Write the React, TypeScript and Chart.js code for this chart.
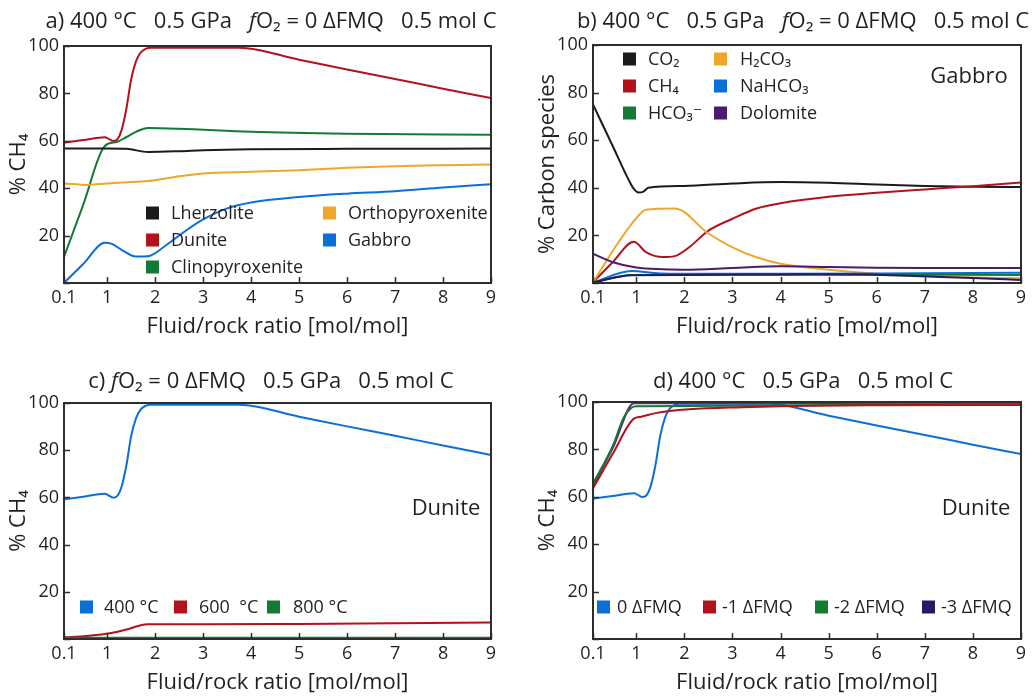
import React, { useEffect, useRef } from 'react';
import { Chart, registerables } from 'chart.js';
Chart.register(...registerables);

const FONT = '"Open Sans", "DejaVu Sans", sans-serif';
const INK = '#231f20';

// ---- axes ----
const xTickValues = [0.1, 1, 2, 3, 4, 5, 6, 7, 8, 9];
const yTickValues = [0, 20, 40, 60, 80, 100];
const xAxisTitle = 'Fluid/rock ratio [mol/mol]';

// ---- colours ----
const C_BLACK = '#1b1b1b';
const C_RED = '#b3121c';
const C_GREEN = '#137a34';
const C_ORANGE = '#eea62c';
const C_BLUE = '#0b6fd8';
const C_PURPLE = '#4d1a6e';
const C_NAVY = '#251a64';

// ---- Dunite, 400 °C, 0 ΔFMQ (panels a, c, d) ----
const dunite400X = [0.1, 0.5, 0.95, 1.05, 1.13, 1.22, 1.3, 1.4, 1.5, 1.6, 1.7, 1.8, 1.9, 2.5, 3.75, 5, 6, 7, 8, 9];
const dunite400Y = [59.2, 60.3, 61.5, 60.6, 59.9, 60.8, 64.5, 73.5, 86, 93.5, 97.3, 98.8, 99.3, 99.3, 99.3, 94.2, 90.1, 86.1, 82.0, 78.0];

// ---- panel a ----
const lherzX = [0.1, 1, 1.4, 1.85, 2.5, 3, 4, 6, 9];
const lherzY = [56.7, 56.7, 56.6, 55.3, 55.6, 56.0, 56.4, 56.6, 56.7];
const clinoX = [0.1, 0.5, 0.95, 1.2, 1.4, 1.6, 1.85, 2.5, 4, 6, 9];
const clinoY = [11, 33, 57.8, 59.5, 61.6, 63.8, 65.4, 65.1, 63.8, 63, 62.6];
const orthoX = [0.1, 0.6, 1, 1.5, 2, 2.5, 3, 4, 5, 6, 7, 8, 9];
const orthoY = [42, 41.4, 42, 42.6, 43.4, 45, 46.2, 46.9, 47.6, 48.6, 49.3, 49.7, 50];
const gabbroX = [0.1, 0.5, 0.95, 1.1, 1.3, 1.6, 1.85, 2.2, 2.6, 3, 3.5, 4, 5, 6, 7, 8, 9];
const gabbroY = [0, 8, 17, 16.5, 14, 11.2, 11.3, 15.5, 21.5, 26.8, 31.5, 34, 36.3, 37.7, 38.7, 40.3, 41.7];

// ---- panel b (Gabbro species) ----
const co2X = [0.1, 0.5, 0.85, 0.95, 1.05, 1.15, 1.25, 2, 3, 4, 5, 6, 7, 8, 9];
const co2Y = [75, 58, 43, 39.5, 38, 38.4, 40, 40.8, 41.8, 42.4, 42.1, 41.4, 40.8, 40.4, 40.3];
const ch4X = [0.1, 0.5, 0.95, 1.2, 1.55, 1.8, 2.1, 2.5, 3, 3.5, 4, 5, 6, 7, 8, 9];
const ch4Y = [0.3, 8.5, 17.3, 13, 10.9, 11.3, 15, 22, 27, 31.3, 33.5, 36.2, 37.9, 39.3, 40.7, 42.2];
const h2co3X = [0.1, 0.3, 0.56, 0.95, 1.2, 1.8, 2.5, 3, 3.5, 4, 5, 6, 7, 8, 9];
const h2co3Y = [0.3, 6.7, 15, 26, 30.8, 31.3, 20.8, 15, 10.8, 8.1, 5.6, 3.9, 2.8, 2.3, 2.0];
const dolomiteX = [0.1, 0.5, 1, 2, 3, 4, 5, 6, 7, 9];
const dolomiteY = [12.3, 8.8, 6.5, 5.6, 6.3, 7.0, 6.7, 6.4, 6.3, 6.3];
const nahco3X = [0.1, 0.9, 1.5, 2, 4, 6, 9];
const nahco3Y = [0.2, 5, 4, 3.9, 3.9, 4, 4.3];
const hco3X = [0.1, 0.9, 2, 5, 9];
const hco3Y = [0.2, 3.4, 3.5, 3.5, 3.4];
const minorX = [0.1, 0.9, 2, 4, 5, 6, 7, 8, 9];
const minorY = [0.2, 3.3, 3.4, 3.6, 3.7, 3.5, 2.8, 2.1, 1.3];

// ---- panel c (Dunite, temperature) ----
const t600X = [0.1, 0.57, 1.06, 1.4, 1.84, 3, 5, 7, 9];
const t600Y = [0.7, 1.3, 2.4, 4, 6.3, 6.2, 6.4, 6.7, 7.0];
const t800X = [0.1, 9];
const t800Y = [0.5, 0.5];

// ---- panel d (Dunite, fO2) ----
const fmq1X = [0.1, 0.52, 0.95, 1.1, 1.4, 2.1, 3.2, 4.2, 6, 9];
const fmq1Y = [63.6, 78.5, 93.0, 93.8, 95.3, 96.9, 97.8, 98.3, 98.6, 98.7];
const fmq2X = [0.1, 0.52, 0.73, 0.9, 1.0, 2, 4, 6, 9];
const fmq2Y = [65.5, 81.9, 93.1, 97.6, 98.2, 98.3, 98.5, 99.0, 99.3];
const fmq3X = [0.1, 0.52, 0.95, 2, 9];
const fmq3Y = [64.5, 81, 99.5, 99.5, 99.5];

type Seg = { t: string; i?: boolean };
type Series = { label: string; x: number[]; y: number[]; color: string };
type LegendItem = { label: string; color: string; sx: number; tx: number; y: number };
type PanelDef = {
  left: number; top: number; width: number; height: number;
  area: { l: number; r: number; t: number; b: number };
  title: Seg[]; titleX: number; titleY: number;
  yTitle: string; yTitlePad: number;
  series: Series[];
  legend: LegendItem[];
  note?: { text: string; x: number; y: number };
};

const titleABC = (p: string): Seg[] => [
  { t: p + ' 400 °C   0.5 GPa   ' }, { t: 'f', i: true }, { t: 'O₂ = 0 ΔFMQ   0.5 mol C' },
];

const panels: PanelDef[] = [
  {
    left: 0, top: 0, width: 515, height: 340,
    area: { l: 64, r: 491, t: 46, b: 283 },
    title: titleABC('a)'), titleX: 271, titleY: 22,
    yTitle: '% CH₄', yTitlePad: 6,
    series: [
      { label: 'Lherzolite', x: lherzX, y: lherzY, color: C_BLACK },
      { label: 'Orthopyroxenite', x: orthoX, y: orthoY, color: C_ORANGE },
      { label: 'Gabbro', x: gabbroX, y: gabbroY, color: C_BLUE },
      { label: 'Clinopyroxenite', x: clinoX, y: clinoY, color: C_GREEN },
      { label: 'Dunite', x: dunite400X, y: dunite400Y, color: C_RED },
    ],
    legend: [
      { label: 'Lherzolite', color: C_BLACK, sx: 146, tx: 171, y: 213 },
      { label: 'Dunite', color: C_RED, sx: 146, tx: 171, y: 240 },
      { label: 'Clinopyroxenite', color: C_GREEN, sx: 146, tx: 171, y: 267 },
      { label: 'Orthopyroxenite', color: C_ORANGE, sx: 323, tx: 348, y: 213 },
      { label: 'Gabbro', color: C_BLUE, sx: 323, tx: 348, y: 240 },
    ],
  },
  {
    left: 515, top: 0, width: 520, height: 340,
    area: { l: 78, r: 506, t: 45, b: 283 },
    title: titleABC('b)'), titleX: 288, titleY: 22,
    yTitle: '% Carbon species', yTitlePad: 20,
    series: [
      { label: 'minor', x: minorX, y: minorY, color: C_NAVY },
      { label: 'HCO₃⁻', x: hco3X, y: hco3Y, color: C_GREEN },
      { label: 'NaHCO₃', x: nahco3X, y: nahco3Y, color: C_BLUE },
      { label: 'Dolomite', x: dolomiteX, y: dolomiteY, color: C_PURPLE },
      { label: 'H₂CO₃', x: h2co3X, y: h2co3Y, color: C_ORANGE },
      { label: 'CH₄', x: ch4X, y: ch4Y, color: C_RED },
      { label: 'CO₂', x: co2X, y: co2Y, color: C_BLACK },
    ],
    legend: [
      { label: 'CO₂', color: C_BLACK, sx: 108, tx: 133, y: 59 },
      { label: 'CH₄', color: C_RED, sx: 108, tx: 133, y: 86 },
      { label: 'HCO₃⁻', color: C_GREEN, sx: 108, tx: 133, y: 113 },
      { label: 'H₂CO₃', color: C_ORANGE, sx: 199, tx: 225, y: 59 },
      { label: 'NaHCO₃', color: C_BLUE, sx: 199, tx: 225, y: 86 },
      { label: 'Dolomite', color: C_PURPLE, sx: 199, tx: 225, y: 113 },
    ],
    note: { text: 'Gabbro', x: 454, y: 77 },
  },
  {
    left: 0, top: 340, width: 515, height: 356,
    area: { l: 64, r: 491, t: 63, b: 299 },
    title: [{ t: 'c) ' }, { t: 'f', i: true }, { t: 'O₂ = 0 ΔFMQ   0.5 GPa   0.5 mol C' }],
    titleX: 271, titleY: 42,
    yTitle: '% CH₄', yTitlePad: 6,
    series: [
      { label: '800 °C', x: t800X, y: t800Y, color: C_GREEN },
      { label: '600 °C', x: t600X, y: t600Y, color: C_RED },
      { label: '400 °C', x: dunite400X, y: dunite400Y, color: C_BLUE },
    ],
    legend: [
      { label: '400 °C', color: C_BLUE, sx: 80, tx: 104, y: 267 },
      { label: '600  °C', color: C_RED, sx: 174, tx: 199, y: 267 },
      { label: '800 °C', color: C_GREEN, sx: 267, tx: 293, y: 267 },
    ],
    note: { text: 'Dunite', x: 446, y: 169 },
  },
  {
    left: 515, top: 340, width: 520, height: 356,
    area: { l: 78, r: 506, t: 62, b: 299 },
    title: [{ t: 'd) 400 °C   0.5 GPa   0.5 mol C' }], titleX: 288, titleY: 42,
    yTitle: '% CH₄', yTitlePad: 20,
    series: [
      { label: '-1 ΔFMQ', x: fmq1X, y: fmq1Y, color: C_RED },
      { label: '-2 ΔFMQ', x: fmq2X, y: fmq2Y, color: C_GREEN },
      { label: '-3 ΔFMQ', x: fmq3X, y: fmq3Y, color: '#5a2a86' },
      { label: '0 ΔFMQ', x: dunite400X, y: dunite400Y, color: C_BLUE },
    ],
    legend: [
      { label: '0 ΔFMQ', color: C_BLUE, sx: 82, tx: 102, y: 267 },
      { label: '-1 ΔFMQ', color: C_RED, sx: 188, tx: 207, y: 267 },
      { label: '-2 ΔFMQ', color: C_GREEN, sx: 300, tx: 319, y: 267 },
      { label: '-3 ΔFMQ', color: C_NAVY, sx: 407, tx: 426, y: 267 },
    ],
    note: { text: 'Dunite', x: 461, y: 169 },
  },
];

function makeChart(canvas: HTMLCanvasElement, p: PanelDef) {
  const datasets = p.series.map((s) => ({
    label: s.label,
    data: s.x.map((xv, i) => ({ x: xv, y: s.y[i] })),
    borderColor: s.color,
    backgroundColor: s.color,
    borderWidth: 2,
    pointRadius: 0,
    cubicInterpolationMode: 'monotone' as const,
    fill: false,
  }));

  const decor = {
    id: 'decor',
    afterDraw(chart: any) {
      const ctx: CanvasRenderingContext2D = chart.ctx;
      const a = chart.chartArea;
      const xs = chart.scales.x;
      const ys = chart.scales.y;
      ctx.save();
      // frame
      ctx.strokeStyle = '#2e2c2d';
      ctx.lineWidth = 2;
      ctx.strokeRect(a.left, a.top, a.right - a.left, a.bottom - a.top);
      // inward ticks
      ctx.beginPath();
      xTickValues.forEach((v) => {
        const px = Math.round(xs.getPixelForValue(v)) + 0.5;
        ctx.moveTo(px, a.bottom);
        ctx.lineTo(px, a.bottom - 6);
      });
      yTickValues.forEach((v) => {
        const py = Math.round(ys.getPixelForValue(v)) + 0.5;
        ctx.moveTo(a.left, py);
        ctx.lineTo(a.left + 6, py);
      });
      ctx.lineWidth = 1.5;
      ctx.stroke();

      // title with italic segment
      ctx.fillStyle = INK;
      ctx.textBaseline = 'middle';
      ctx.textAlign = 'left';
      const fontFor = (s: Seg) => `${s.i ? 'italic ' : ''}22px ${FONT}`;
      let total = 0;
      p.title.forEach((s) => { ctx.font = fontFor(s); total += ctx.measureText(s.t).width; });
      let cx = p.titleX - total / 2;
      p.title.forEach((s) => {
        ctx.font = fontFor(s);
        ctx.fillText(s.t, cx, p.titleY);
        cx += ctx.measureText(s.t).width;
      });

      // legend
      ctx.font = `18px ${FONT}`;
      p.legend.forEach((it) => {
        ctx.fillStyle = it.color;
        ctx.fillRect(it.sx, it.y - 6.5, 13, 13);
        ctx.fillStyle = INK;
        ctx.fillText(it.label, it.tx, it.y + 1);
      });

      // note
      if (p.note) {
        ctx.font = `22px ${FONT}`;
        ctx.textAlign = 'center';
        ctx.fillText(p.note.text, p.note.x, p.note.y);
      }
      ctx.restore();
    },
  };

  return new Chart(canvas, {
    type: 'line',
    data: { datasets },
    options: {
      responsive: false,
      maintainAspectRatio: false,
      animation: false,
      devicePixelRatio: 1,
      layout: { padding: { left: 0, top: p.area.t, right: p.width - p.area.r, bottom: 0 } },
      plugins: {
        legend: { display: false },
        tooltip: { enabled: false },
        title: { display: false },
      },
      scales: {
        x: {
          type: 'linear',
          min: 0.1,
          max: 9,
          afterBuildTicks: (axis: any) => { axis.ticks = xTickValues.map((v) => ({ value: v })); },
          afterFit: (axis: any) => { axis.height = p.height - p.area.b; },
          grid: { display: false, drawTicks: false },
          border: { display: false },
          ticks: {
            autoSkip: false,
            maxRotation: 0,
            padding: 4,
            color: INK,
            font: { family: FONT, size: 18 },
            callback: (v: any) => String(v),
          },
          title: {
            display: true,
            text: xAxisTitle,
            color: INK,
            font: { family: FONT, size: 22 },
            padding: { top: 0, bottom: 0 },
          },
        },
        y: {
          type: 'linear',
          min: 0,
          max: 100,
          afterBuildTicks: (axis: any) => { axis.ticks = yTickValues.map((v) => ({ value: v })); },
          afterFit: (axis: any) => { axis.width = p.area.l; },
          grid: { display: false, drawTicks: false },
          border: { display: false },
          ticks: {
            padding: 5,
            color: INK,
            font: { family: FONT, size: 18 },
            callback: (v: any) => (v === 0 ? '' : String(v)),
          },
          title: {
            display: true,
            text: p.yTitle,
            color: INK,
            font: { family: FONT, size: 22 },
            padding: { top: p.yTitlePad, bottom: 0 },
          },
        },
      },
    },
    plugins: [decor],
  } as any);
}

function Panel({ p }: { p: PanelDef }) {
  const ref = useRef<HTMLCanvasElement>(null);
  useEffect(() => {
    if (!ref.current) return;
    const chart = makeChart(ref.current, p);
    return () => chart.destroy();
  }, [p]);
  return (
    <canvas
      ref={ref}
      width={p.width}
      height={p.height}
      style={{ position: 'absolute', left: p.left, top: p.top, width: p.width, height: p.height }}
    />
  );
}

export default function App() {
  return (
    <div style={{ position: 'absolute', left: 0, top: 0, width: 1035, height: 696, background: '#fff' }}>
      {panels.map((p, i) => (
        <Panel key={i} p={p} />
      ))}
    </div>
  );
}
